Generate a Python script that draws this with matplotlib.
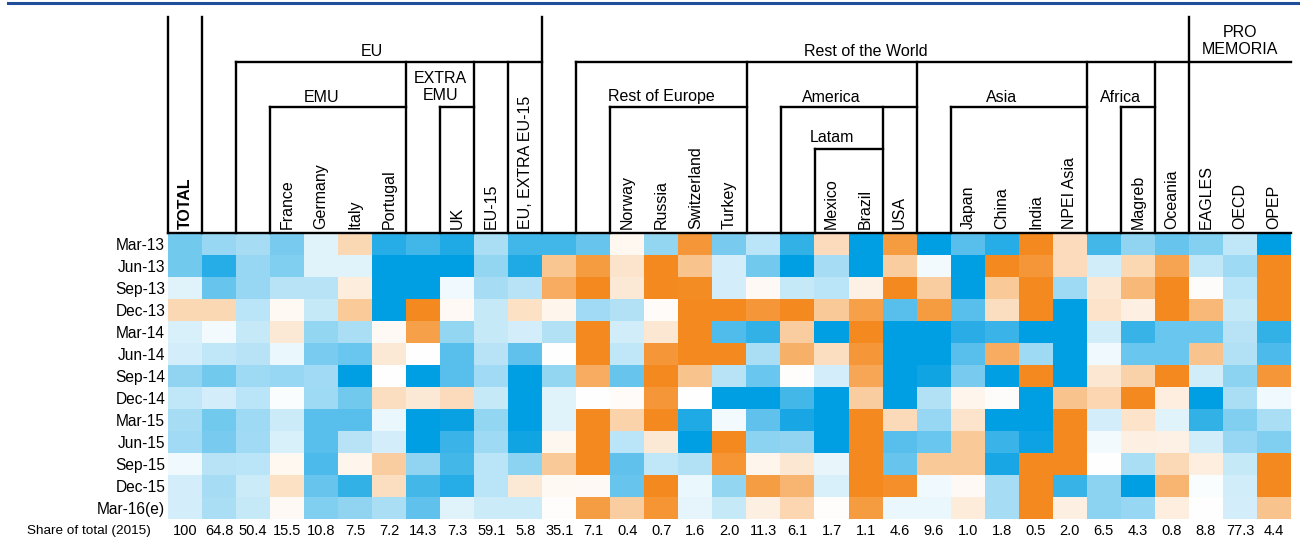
import numpy as np
import matplotlib.pyplot as plt
from matplotlib.colors import LinearSegmentedColormap

plt.rcParams['font.family'] = ['Liberation Sans', 'DejaVu Sans']

quarters = ["Mar-13", "Jun-13", "Sep-13", "Dec-13", "Mar-14", "Jun-14", "Sep-14",
            "Dec-14", "Mar-15", "Jun-15", "Sep-15", "Dec-15", "Mar-16(e)"]

# rotated labels at the bottom of the header ("" = aggregate, named in the group header)
col_labels = ["TOTAL", "", "", "France", "Germany", "Italy", "Portugal", "", "UK",
              "EU-15", "EU, EXTRA EU-15", "", "", "Norway", "Russia", "Switzerland",
              "Turkey", "", "", "Mexico", "Brazil", "USA", "", "Japan", "China",
              "India", "NPEI Asia", "", "Magreb", "Oceania", "EAGLES", "OECD", "OPEP"]

share_2015 = ["100", "64.8", "50.4", "15.5", "10.8", "7.5", "7.2", "14.3", "7.3",
              "59.1", "5.8", "35.1", "7.1", "0.4", "0.7", "1.6", "2.0", "11.3", "6.1",
              "1.7", "1.1", "4.6", "9.6", "1.0", "1.8", "0.5", "2.0", "6.5", "4.3",
              "0.8", "8.8", "77.3", "4.4"]

# colour level, -10 = deep blue, 0 = white, +10 = deep orange
# one line per column, Mar-13 ... Mar-16(e)
levels = [
    [-5.5, -5.5, -1.2, 3.3, -1.5, -1.7, -4.3, -2.5, -3.5, -3.7, -0.6, -1.7, -1.7],  # TOTAL
    [-4, -8.5, -6, 3.3, -0.4, -2.5, -5.5, -1.7, -5.5, -5.3, -2.8, -3.5, -3.3],        # EU
    [-3.5, -4, -4, -2.7, -2.2, -2.8, -3.8, -2.7, -3.8, -3.7, -2.7, -2, -2.2],         # EMU
    [-5.3, -5, -2.8, 0.5, 1.8, -0.8, -4, -0.2, -2, -1.5, 0.6, 2.5, 0.4],              # France
    [-1.2, -1.2, -2.8, -2.2, -4.2, -5.2, -3.7, -3.8, -6.5, -6.5, -7, -6, -5],         # Germany
    [3.3, -1.2, 1.5, 4.5, -3.3, -5.8, -10, -5.5, -6.5, -2.8, 0.8, -8, -4.3],          # Italy
    [-8.5, -10, -10, -10, 0.4, 1.8, 0, 2.8, -0.8, -1.7, 4.2, 2.8, -3.3],              # Portugal
    [-7.5, -10, -10, 10, 8, 0, -10, 1.8, -10, -10, -4.3, -7.3, -6.2],                 # EXTRA EMU
    [-8.7, -10, -0.6, 0.4, -4.2, -6.5, -6.5, 3, -9.6, -7.7, -7.3, -8.5, -1.2],        # UK
    [-3.3, -4.2, -3.5, -2.2, -2.2, -2.8, -3.7, -2.2, -4.2, -3.8, -2.7, -2.7, -2],     # EU-15
    [-7.5, -8.7, -2.8, 2.5, -1.7, -6.2, -10, -10, -10, -9.3, -4.5, 1.8, -2],          # EU, EXTRA EU-15
    [-7.5, 4.8, 7, 0.8, -3, 0, -4.2, -1.2, -1.2, 0.7, 4.6, 0.5, 0.1],                 # Rest of the World
    [-6, 8.5, 10, -3.7, 10, 10, 7, 0, 10, 10, 10, 0.4, 8.3],                          # Rest of Europe
    [0.6, 2.2, 1.8, -3, -1.8, -2.5, -6, 0.3, 3.7, -2.7, -6.2, -6, 4.2],               # Norway
    [-4.2, 10, 10, 0.3, 2, 8.8, 10, 8.8, 10, 1.8, -2.5, 10, 9],                       # Russia
    [8.8, 5, 9.7, 10, 10, 10, 5, 0, -8.7, -10, -3, -0.8, -1],                         # Switzerland
    [-5.3, -1.7, -1.7, 10, -6.8, 10, -2.8, -10, -0.4, 10, 9, -4.2, -2.2],             # Turkey
    [-2.7, -5.5, 0.4, 8.8, -8, -3.3, -5.8, -10, -6.2, -4.5, 0.8, 8.3, 1.3],           # America
    [-8, -10, -2.2, 10, 4.2, 6.7, 0.1, -7.3, -9, -4.3, 2, 6.3, 3.5],                  # Latam
    [3, -3.5, -2.7, 4.6, -10, 2.8, -1.7, -10, -10, -10, -0.9, -1.5, 0.1],             # Mexico
    [-10, -10, 1.1, 8, 10, 8.8, 7.5, 4.2, 10, 10, 10, 10, 8.5],                       # Brazil
    [8.5, 4.2, 10, -6.5, -10, -10, -10, -10, 3.1, -6.5, -6, 9.5, -0.8],               # USA
    [-10, -0.4, 4.2, 8.5, -10, -10, -9.3, -3, -4, -5.8, 4.6, -0.6, -0.8],             # Asia
    [-6.5, -10, -10, -6.5, -8.3, -6.5, -5.3, 0.8, 2.2, 4.6, 4.6, 0.4, 1.6],           # Japan
    [-8.5, 10, 4.6, 2.8, -7.7, 7, -10, 0.2, -10, -7.7, -9, -3.5, -3.5],               # China
    [10, 8.8, 10, 10, -10, -3.8, 10, -10, -10, -9.5, 10, 10, 10],                     # India
    [3, 3, -3.8, -10, -10, -10, -10, 5, 10, 10, 10, -7.8, 1.3],                       # NPEI Asia
    [-7.3, -1.8, 2, 2.4, -1.8, -0.6, 2, 3.5, -1.7, -0.4, 0, -4.5, -4.5],              # Africa
    [-4.3, 3.4, 6, 1.2, -7.8, -5.8, 3.8, 10, 2.4, 1.2, -3.3, -10, -4],                # Magreb
    [-6, 7.7, 10, 10, -5.8, -5.8, 10, 1.4, -1.2, 1.1, 3.2, 6.3, 1.4],                 # Oceania
    [-4.8, -2.5, 0.2, 6, -5.8, 5, -1.8, -10, -8, -1.8, 1.4, -0.2, 0],                 # EAGLES
    [-2.5, -3.8, -2.7, -2.2, -2.8, -3, -4.5, -3.3, -5, -4, -2.2, -1.8, -1.7],         # OECD
    [-10, 10, 10, 10, -8, -7, 8.8, -0.6, -3.3, -5, 10, 10, 5],                        # OPEP
]

# header frame in pixel rows: top of lines, level 2, level 3, level 4, header bottom
Y_TOP, Y_L2, Y_L3, Y_L4, Y_BOT = 17, 62, 107, 149, 233

# header groups: (text, first column, end column, text centre in px)
groups = [
    ("EU", 1, 11, 51), ("Rest of the World", 11, 30, 51), ("PRO\nMEMORIA", 30, 33, 41),
    ("EMU", 2, 7, 97), ("EXTRA\nEMU", 7, 9, 87), ("Rest of Europe", 12, 17, 97),
    ("America", 17, 22, 97), ("Asia", 22, 27, 97), ("Africa", 27, 29, 97),
    ("Latam", 18, 21, 138),
]

vlines = [(0, Y_TOP), (1, Y_TOP), (11, Y_TOP), (30, Y_TOP),
          (2, Y_L2), (7, Y_L2), (9, Y_L2), (10, Y_L2), (12, Y_L2), (17, Y_L2),
          (22, Y_L2), (27, Y_L2), (29, Y_L2),
          (3, Y_L3), (8, Y_L3), (13, Y_L3), (18, Y_L3), (21, Y_L3), (23, Y_L3), (28, Y_L3),
          (19, Y_L4)]
hlines = [(2, 11, Y_L2), (12, 30, Y_L2), (30, 33, Y_L2),
          (3, 7, Y_L3), (8, 9, Y_L3), (13, 17, Y_L3), (18, 22, Y_L3), (23, 27, Y_L3),
          (28, 29, Y_L3), (19, 21, Y_L4), (0, 33, Y_BOT)]

W, H = 1300, 542
FS = 11.5
cmap = LinearSegmentedColormap.from_list(
    "bo", ["#009EE2", "#FFFFFF", "#F48A1F"])

fig = plt.figure(figsize=(W / 100, H / 100), dpi=100)
x0, x1 = 168 / W, 1291 / W
ax = fig.add_axes([x0, 23 / H, x1 - x0, (519 - Y_BOT) / H])
data = np.array(levels).T
ax.imshow(data, cmap=cmap, vmin=-10, vmax=10, aspect='auto', interpolation='nearest')
ax.set_xticks([])
ax.set_yticks(range(len(quarters)))
ax.set_yticklabels(quarters, fontsize=11.2)
ax.tick_params(axis='y', length=0, pad=2)
for s in ax.spines.values():
    s.set_visible(False)

# share row under the table (last cell edge is at 12.5)
for i, v in enumerate(share_2015):
    ax.text(i, 13.05, v, ha='center', va='center', fontsize=10.5)
fig.text(27 / W, 1 - 531 / H, "Share of total (2015)", ha='left', va='center', fontsize=9.7)

# header
hx = fig.add_axes([x0, 1 - Y_BOT / H, x1 - x0, Y_BOT / H])
hx.set_xlim(-0.5, len(col_labels) - 0.5)
hx.set_ylim(Y_BOT, 0)
hx.axis('off')
lw = 1.7
for x, ytop in vlines:
    hx.plot([x - 0.5, x - 0.5], [ytop, Y_BOT], color='black', lw=lw,
            solid_capstyle='projecting', clip_on=False)
for xa, xb, y in hlines:
    hx.plot([xa - 0.5, xb - 0.5], [y, y], color='black', lw=lw,
            solid_capstyle='projecting', clip_on=False)
for i, lab in enumerate(col_labels):
    if lab:
        hx.text(i, Y_BOT - 4, lab, rotation=90, ha='center', va='bottom', fontsize=FS,
                fontweight='bold' if lab == "TOTAL" else 'normal')
for txt, a, b, yc in groups:
    hx.text((a + b - 1) / 2, yc, txt, ha='center', va='center', fontsize=FS,
            linespacing=1.2)

# blue rule at the top of the page
fig.add_artist(plt.Line2D([8 / W, 1], [1 - 3 / H, 1 - 3 / H], color='#1F4E9A', lw=2.2))

fig.savefig("out.png", dpi=100)
